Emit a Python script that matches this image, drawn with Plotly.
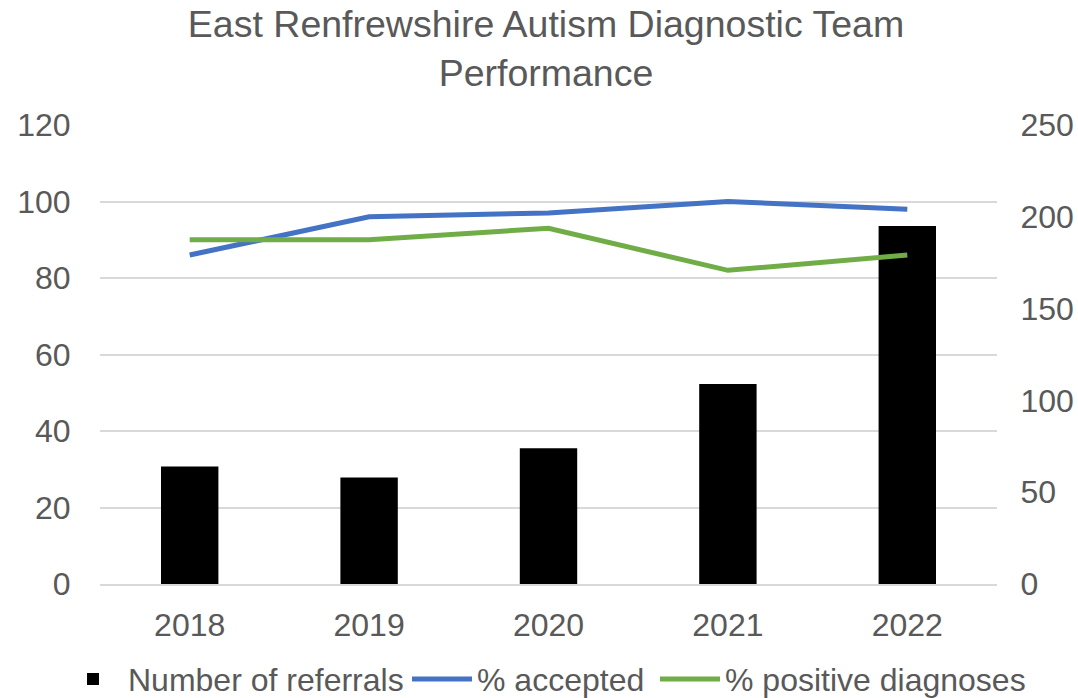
import plotly.graph_objects as go

years = ["2018", "2019", "2020", "2021", "2022"]
referrals = [64, 58, 74, 109, 195]
pct_accepted = [86, 96, 97, 100, 98]
pct_positive = [90, 90, 93, 82, 86]

grey = "#595959"
font = "Liberation Sans, Arial, sans-serif"

fig = go.Figure()
fig.add_trace(go.Bar(x=years, y=referrals, name="Number of referrals",
                     marker=dict(color="black", line=dict(width=0)), yaxis="y",
                     legend="legend"))
fig.add_trace(go.Scatter(x=years, y=pct_accepted, name="% accepted", mode="lines",
                         line=dict(color="#4472C4", width=5), yaxis="y2",
                         legend="legend2"))
fig.add_trace(go.Scatter(x=years, y=pct_positive, name="% positive diagnoses", mode="lines",
                         line=dict(color="#70AD47", width=5), yaxis="y2",
                         legend="legend3"))

leg_common = dict(orientation="h", xref="container", yref="container",
                  xanchor="left", y=0.027, yanchor="middle",
                  font=dict(size=32, color=grey), bgcolor="rgba(0,0,0,0)",
                  itemwidth=60)

fig.update_layout(
    width=1078, height=698,
    margin=dict(l=100, r=81, t=125, b=114),
    paper_bgcolor="white", plot_bgcolor="white",
    font=dict(family=font, color=grey, size=32),
    title=dict(text="East Renfrewshire Autism Diagnostic Team<br>Performance",
               x=0.5065, xanchor="center", y=0.947, yanchor="top",
               font=dict(size=37.5, color=grey, family=font)),
    bargap=0.68,
    xaxis=dict(showgrid=False, showline=True, linecolor="#d9d9d9", linewidth=1.5,
               ticks="outside", ticklen=12, tickcolor="rgba(0,0,0,0)", automargin=False,
               tickfont=dict(size=32, color=grey)),
    yaxis=dict(range=[0, 250], dtick=50, side="right", showgrid=False, zeroline=False,
               ticks="outside", ticklen=16, tickcolor="rgba(0,0,0,0)", automargin=False,
               tickfont=dict(size=32, color=grey)),
    yaxis2=dict(range=[0, 120], dtick=20, side="left", overlaying="y",
                showgrid=True, gridcolor="#d9d9d9", gridwidth=1.5, zeroline=False,
                ticks="outside", ticklen=22, tickcolor="rgba(0,0,0,0)", automargin=False,
                tickfont=dict(size=32, color=grey)),
    legend=dict(leg_common, x=58 / 1078),
    legend2=dict(leg_common, x=407 / 1078),
    legend3=dict(leg_common, x=655 / 1078),
    showlegend=True,
)

fig.write_html("out.html")
